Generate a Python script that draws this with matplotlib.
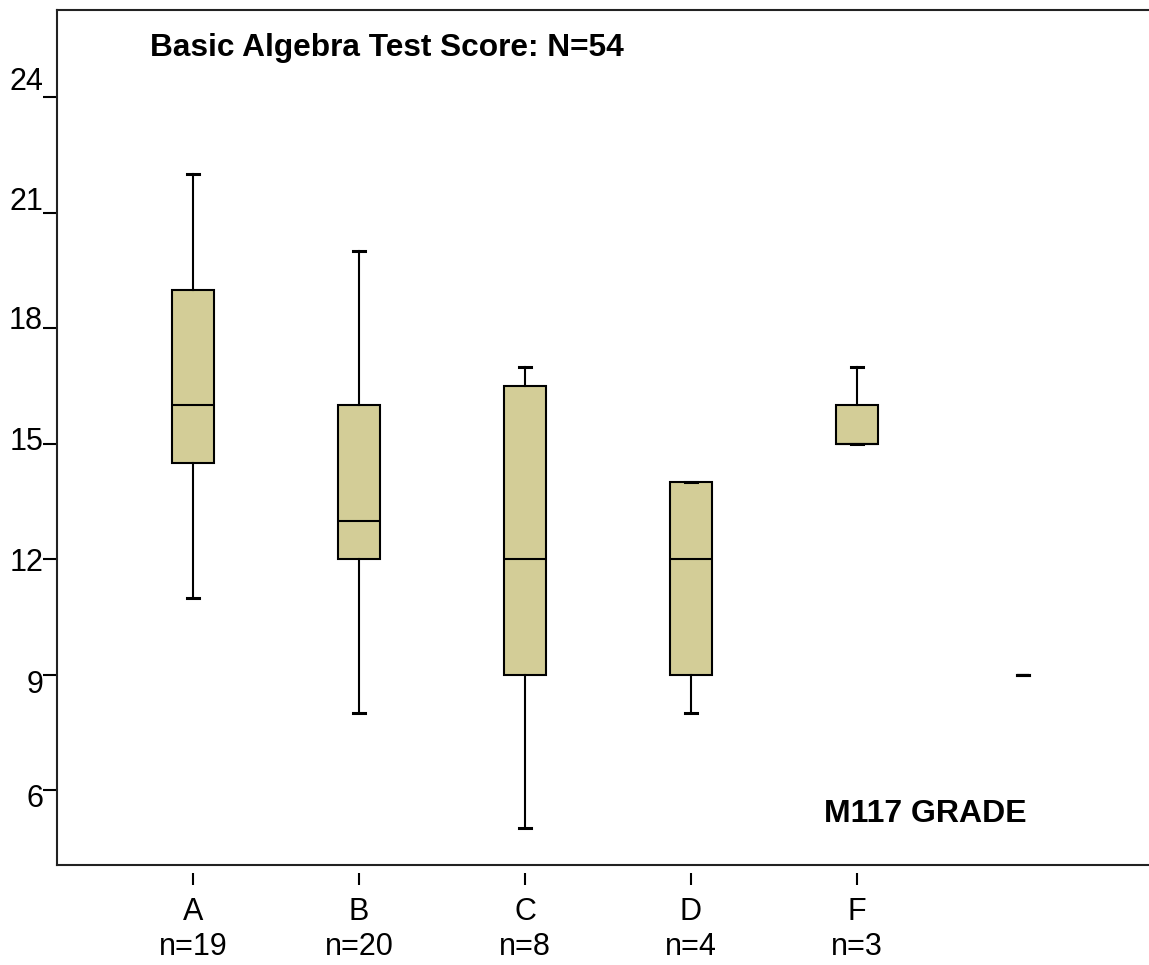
import matplotlib
matplotlib.use('Agg')
import matplotlib.pyplot as plt

plt.rcParams['font.family'] = ['Liberation Sans', 'DejaVu Sans']

# --------------- Data ---------------
grades = ['A', 'B', 'C', 'D', 'F']
counts = [19, 20, 8, 4, 3]
whis_lo = [11, 8, 5, 8, 15]
q1 = [14.5, 12, 9, 9, 15]
medians = [16, 13, 12, 12, 15]
q3 = [19, 16, 16.5, 14, 16]
whis_hi = [22, 20, 17, 14, 17]
# extra group at the right with a single value
extra_value = 9

yticks = [6, 9, 12, 15, 18, 21, 24]
title = 'Basic Algebra Test Score: N=54'
xlabel = 'M117 GRADE'

# --------------- Style ---------------
box_color = '#D3CD97'
lw = 1.5
# vertical nudge of each y tick label (points, positive = up)
label_nudge = [-6.5, -7.2, -3.2, 1.1, 4.7, 7.9, 10.8]

fig = plt.figure(figsize=(11.49, 9.65), dpi=100)
ax = fig.add_axes([0.0496, 0.10363, 0.9504, 0.88601])

stats = []
for i in range(len(grades)):
    stats.append(dict(whislo=whis_lo[i], q1=q1[i], med=medians[i], q3=q3[i],
                      whishi=whis_hi[i], fliers=[]))
pos = list(range(1, len(grades) + 1))

common = dict(patch_artist=True, showfliers=False,
              boxprops=dict(facecolor=box_color, edgecolor='black', linewidth=lw),
              medianprops=dict(color='black', linewidth=lw),
              whiskerprops=dict(color='black', linewidth=lw),
              capprops=dict(color='black', linewidth=2.2),
              manage_ticks=False)
ax.bxp(stats, positions=pos, widths=0.25, capwidths=0.075, **common)

extra = [dict(whislo=extra_value, q1=extra_value, med=extra_value, q3=extra_value,
              whishi=extra_value, fliers=[])]
ax.bxp(extra, positions=[len(grades) + 1], widths=0.075, capwidths=0.075, **common)

ax.set_xlim(0.181, 6.759)
ax.set_ylim(4.052, 26.26)

for s in ['left', 'bottom', 'top']:
    ax.spines[s].set_linewidth(1.5)
    ax.spines[s].set_color('#222222')
ax.spines['right'].set_visible(False)

# y axis
ax.set_yticks(yticks)
ax.set_yticklabels([''] * len(yticks))
ax.tick_params(axis='y', length=10, width=1.5, color='black')
for v, dy in zip(yticks, label_nudge):
    ax.annotate(str(v), xy=(0, v), xycoords=('axes fraction', 'data'),
                xytext=(-10, dy), textcoords='offset points',
                ha='right', va='center', fontsize=22)

# x axis: ticks sit a little below the frame
ax.set_xticks([])
sec = ax.secondary_xaxis(-8 / 855)
sec.spines['bottom'].set_visible(False)
sec.set_xticks(pos)
sec.set_xticklabels([f'{g}\nn={n}' for g, n in zip(grades, counts)], fontsize=22)
sec.tick_params(axis='x', length=8.6, width=1.5, pad=9)

ax.text(0.0852, 0.946, title, transform=ax.transAxes, fontsize=22.8,
        fontweight='bold', ha='left', va='baseline')
ax.text(0.888, 0.0503, xlabel, transform=ax.transAxes, fontsize=23,
        fontweight='bold', ha='right', va='baseline')

fig.savefig('out.png', dpi=100)
